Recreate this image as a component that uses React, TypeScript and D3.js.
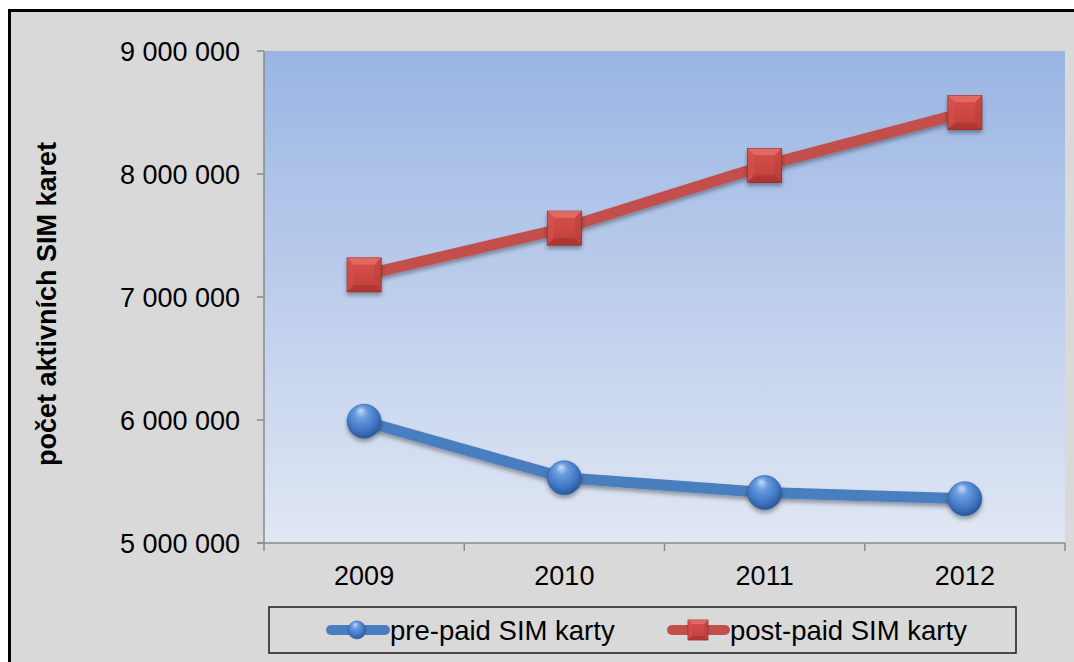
import React from "react";
import * as d3 from "d3";

const years = ["2009", "2010", "2011", "2012"];
const prePaid = [5990000, 5530000, 5410000, 5360000];
const postPaid = [7180000, 7560000, 8070000, 8500000];
const yTicks = [5000000, 6000000, 7000000, 8000000, 9000000];
const seriesNames = ["pre-paid SIM karty", "post-paid SIM karty"];
const yTitle = "počet aktivních SIM karet";

const W = 1074;
const H = 662;
const plot = { left: 264, right: 1065, top: 51, bottom: 543 };
const FONT = "'Liberation Sans', Arial, sans-serif";

const fmt = (v: number) => d3.format(",")(v).replace(/,/g, " ");

function Square({ cx, cy, s }: { cx: number; cy: number; s: number }) {
  const h = s / 2;
  const b = s * 0.2;
  const x0 = cx - h, x1 = cx + h, y0 = cy - h, y1 = cy + h;
  return (
    <g>
      <rect x={x0} y={y0} width={s} height={s} fill="url(#sqFace)" stroke="#8c2a27" strokeWidth={0.8} />
      <polygon points={`${x0},${y0} ${x1},${y0} ${x1 - b},${y0 + b} ${x0 + b},${y0 + b}`} fill="#e4716d" opacity={0.75} />
      <polygon points={`${x0},${y0} ${x0 + b},${y0 + b} ${x0 + b},${y1 - b} ${x0},${y1}`} fill="#d45551" opacity={0.5} />
      <polygon points={`${x1},${y0} ${x1 - b},${y0 + b} ${x1 - b},${y1 - b} ${x1},${y1}`} fill="#b5403c" opacity={0.5} />
      <polygon points={`${x0},${y1} ${x1},${y1} ${x1 - b},${y1 - b} ${x0 + b},${y1 - b}`} fill="#a5302d" opacity={0.6} />
    </g>
  );
}

function Ball({ cx, cy, r }: { cx: number; cy: number; r: number }) {
  return <circle cx={cx} cy={cy} r={r} fill="url(#ballGrad)" stroke="#2f5f9e" strokeWidth={0.6} />;
}

export default function App() {
  const x = d3.scaleBand<string>().domain(years).range([plot.left, plot.right]);
  const y = d3.scaleLinear().domain([5000000, 9000000]).range([plot.bottom, plot.top]);
  const cx = (yr: string) => (x(yr) as number) + x.bandwidth() / 2;
  const line = d3
    .line<number>()
    .x((_, i) => cx(years[i]))
    .y((d) => y(d));

  const boundaries = [...years.map((yr) => x(yr) as number), plot.right];

  return (
    <svg
      width={W}
      height={H}
      style={{ position: "absolute", left: 0, top: 0, background: "#ffffff" }}
    >
      <defs>
        <linearGradient id="plotBg" x1="0" y1="0" x2="0" y2="1">
          <stop offset="0%" stopColor="#9ab5e3" />
          <stop offset="100%" stopColor="#e0e7f4" />
        </linearGradient>
        <radialGradient id="ballGrad" cx="45%" cy="40%" r="60%" fx="40%" fy="18%">
          <stop offset="0%" stopColor="#c4dcf8" />
          <stop offset="30%" stopColor="#6a9ce0" />
          <stop offset="75%" stopColor="#3e75c2" />
          <stop offset="100%" stopColor="#2a5796" />
        </radialGradient>
        <linearGradient id="sqFace" x1="0" y1="0" x2="0" y2="1">
          <stop offset="0%" stopColor="#d9504c" />
          <stop offset="100%" stopColor="#c03f3b" />
        </linearGradient>
        <filter id="shadow" x="-30%" y="-30%" width="160%" height="170%">
          <feDropShadow dx="0" dy="3" stdDeviation="2.2" floodColor="#000" floodOpacity="0.35" />
        </filter>
      </defs>

      {/* chart frame */}
      <rect x={9.5} y={10.5} width={1080} height={680} fill="#d9d9d9" stroke="#000" strokeWidth={3} />

      {/* plot area */}
      <rect
        x={plot.left}
        y={plot.top}
        width={plot.right - plot.left}
        height={plot.bottom - plot.top}
        fill="url(#plotBg)"
      />

      {/* y axis */}
      <line x1={plot.left} x2={plot.left} y1={plot.top} y2={plot.bottom} stroke="#8a8a8a" strokeWidth={1.5} />
      {yTicks.map((t) => (
        <g key={t}>
          <line x1={plot.left - 7} x2={plot.left} y1={y(t)} y2={y(t)} stroke="#8a8a8a" strokeWidth={1.5} />
          <text
            x={240}
            y={y(t)}
            dy="0.36em"
            textAnchor="end"
            fontFamily={FONT}
            fontSize={27}
            fill="#000"
          >
            {fmt(t)}
          </text>
        </g>
      ))}

      {/* x axis */}
      <line x1={plot.left - 7} x2={plot.right} y1={plot.bottom} y2={plot.bottom} stroke="#8a8a8a" strokeWidth={1.5} />
      {boundaries.map((bx, i) => (
        <line key={i} x1={bx} x2={bx} y1={plot.bottom} y2={plot.bottom + 8} stroke="#8a8a8a" strokeWidth={1.5} />
      ))}
      {years.map((yr) => (
        <text key={yr} x={cx(yr)} y={585} textAnchor="middle" fontFamily={FONT} fontSize={27} fill="#000">
          {yr}
        </text>
      ))}

      {/* y title */}
      <text
        transform={`translate(56, ${304}) rotate(-90)`}
        textAnchor="middle"
        fontFamily={FONT}
        fontSize={27}
        fontWeight="bold"
        fill="#000"
      >
        {yTitle}
      </text>

      {/* series lines */}
      <path d={line(prePaid) || ""} fill="none" stroke="#4a7ebf" strokeWidth={11} strokeLinejoin="round" filter="url(#shadow)" />
      <path d={line(postPaid) || ""} fill="none" stroke="#c24f4c" strokeWidth={11} strokeLinejoin="round" filter="url(#shadow)" />

      {/* markers */}
      <g filter="url(#shadow)">
        {prePaid.map((v, i) => (
          <Ball key={i} cx={cx(years[i])} cy={y(v)} r={17} />
        ))}
        {postPaid.map((v, i) => (
          <Square key={i} cx={cx(years[i])} cy={y(v)} s={34} />
        ))}
      </g>

      {/* legend */}
      <rect x={269} y={607} width={747} height={46} fill="#d9d9d9" stroke="#1a1a1a" strokeWidth={1.5} />
      <g>
        <line x1={331} x2={385} y1={630} y2={630} stroke="#4a7ebf" strokeWidth={10} strokeLinecap="round" />
        <Ball cx={357} cy={630} r={9} />
        <text x={390} y={630} dy="0.36em" fontFamily={FONT} fontSize={27.5} fill="#000">
          {seriesNames[0]}
        </text>
        <line x1={672} x2={725} y1={630} y2={630} stroke="#c24f4c" strokeWidth={10} strokeLinecap="round" />
        <Square cx={698} cy={630} s={20} />
        <text x={730} y={630} dy="0.36em" fontFamily={FONT} fontSize={27.5} fill="#000">
          {seriesNames[1]}
        </text>
      </g>
    </svg>
  );
}
